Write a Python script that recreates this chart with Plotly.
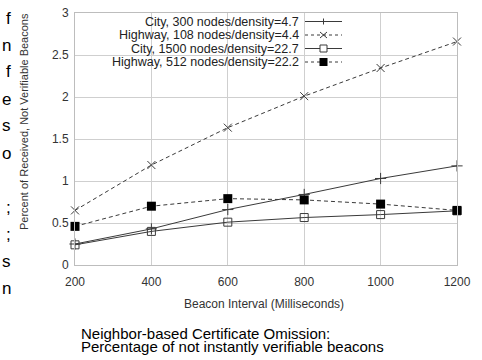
import plotly.graph_objects as go

intervals = [200, 400, 600, 800, 1000, 1200]
city_300 = [0.25, 0.43, 0.66, 0.84, 1.03, 1.18]
highway_108 = [0.65, 1.19, 1.635, 2.01, 2.345, 2.66]
city_1500 = [0.24, 0.40, 0.51, 0.565, 0.60, 0.645]
highway_512 = [0.46, 0.70, 0.79, 0.775, 0.725, 0.65]

names = ["City, 300 nodes/density=4.7", "Highway, 108 nodes/density=4.4",
         "City, 1500 nodes/density=22.7", "Highway, 512 nodes/density=22.2"]
x_ticks = [200, 400, 600, 800, 1000, 1200]
y_ticks = [0, 0.5, 1, 1.5, 2, 2.5, 3]
y_tick_text = ["0", "0.5", "1", "1.5", "2", "2.5", "3"]
left_fragments = ["f", "n", "f", "e", "s", "o", "", ";", ";", "s", "n"]
caption = ["Neighbor-based Certificate Omission:", "Percentage of not instantly verifiable beacons"]

FONT = "Liberation Sans, Arial, sans-serif"
LC = "#3a3a3a"
W, H = 482, 360
# plot area in window pixels: x 75..457, y 13..265
L, T = 75, 13
pw, ph = 382, 252
R, B = W - L - pw, H - T - ph

def px(x):
    return (x - L) / pw

def py(y):
    return (T + ph - y) / ph

styles = [
    dict(dash="solid", symbol="cross-thin-open", size=8, color=LC, lw=1),
    dict(dash="4px,3px", symbol="x-thin-open", size=8, color=LC, lw=1),
    dict(dash="solid", symbol="square-open", size=8, color=LC, lw=1),
    dict(dash="4px,3px", symbol="square", size=9, color="black", lw=0),
]
series = [city_300, highway_108, city_1500, highway_512]

fig = go.Figure()
for name, ys, st in zip(names, series, styles):
    fig.add_trace(go.Scatter(
        x=intervals, y=ys, name=name, mode="lines+markers",
        line=dict(color=LC, width=1, dash=st["dash"]),
        marker=dict(symbol=st["symbol"], size=st["size"], color=st["color"],
                    line=dict(color=st["color"], width=st["lw"])),
        showlegend=False,
    ))

annotations = []
shapes = []
# gnuplot-style legend: text right-aligned, line sample to the right
leg_rows = [21.5, 35, 48.5, 62]
for name, st, ry in zip(names, styles, leg_rows):
    annotations.append(dict(x=px(301), y=py(ry), xref="paper", yref="paper", text=name,
                            showarrow=False, xanchor="right", yanchor="middle",
                            font=dict(family=FONT, size=12.5, color="#222")))
    shapes.append(dict(type="line", xref="paper", yref="paper", x0=px(305), x1=px(342),
                       y0=py(ry), y1=py(ry),
                       line=dict(color=LC, width=1, dash="solid" if st["dash"] == "solid" else "3px,3px")))
    cx, cy = 323.5, ry
    if st["symbol"] == "cross-thin-open":
        shapes.append(dict(type="line", xref="paper", yref="paper", x0=px(cx), x1=px(cx),
                           y0=py(cy - 3), y1=py(cy + 3), line=dict(color=LC, width=1)))
    elif st["symbol"] == "x-thin-open":
        shapes.append(dict(type="line", xref="paper", yref="paper", x0=px(cx - 3.5), x1=px(cx + 3.5),
                           y0=py(cy - 3), y1=py(cy + 3), line=dict(color=LC, width=1)))
        shapes.append(dict(type="line", xref="paper", yref="paper", x0=px(cx - 3.5), x1=px(cx + 3.5),
                           y0=py(cy + 3), y1=py(cy - 3), line=dict(color=LC, width=1)))
    elif st["symbol"] == "square-open":
        shapes.append(dict(type="rect", xref="paper", yref="paper", x0=px(cx - 3.5), x1=px(cx + 3.5),
                           y0=py(cy - 3.5), y1=py(cy + 3.5), line=dict(color=LC, width=1),
                           fillcolor="white"))
    else:
        shapes.append(dict(type="rect", xref="paper", yref="paper", x0=px(cx - 4), x1=px(cx + 4),
                           y0=py(cy - 4), y1=py(cy + 4), line=dict(color="black", width=0),
                           fillcolor="black"))

# cut-off paragraph fragments on the left edge
for i, t in enumerate(left_fragments):
    if not t:
        continue
    annotations.append(dict(x=px(13), y=py(18 + 27 * i), xref="paper", yref="paper", text=t,
                            showarrow=False, xanchor="right", yanchor="middle",
                            font=dict(family=FONT, size=17, color="black")))

# y axis title
annotations.append(dict(x=px(24), y=py(122), xref="paper", yref="paper",
                        text="Percent of Received, Not Verifiable Beacons", textangle=-90,
                        showarrow=False, xanchor="center", yanchor="middle",
                        font=dict(family=FONT, size=11, color="#333")))
# x axis title
annotations.append(dict(x=px(264), y=py(304), xref="paper", yref="paper",
                        text="Beacon Interval (Milliseconds)",
                        showarrow=False, xanchor="center", yanchor="middle",
                        font=dict(family=FONT, size=12, color="#333")))
# caption
for i, line in enumerate(caption):
    annotations.append(dict(x=px(79), y=py(333 + 13 * i), xref="paper", yref="paper",
                            text=line, showarrow=False, xanchor="left", yanchor="middle",
                            font=dict(family=FONT, size=15, color="black")))

fig.update_layout(
    width=W, height=H,
    margin=dict(l=L, r=R, t=T, b=B, autoexpand=False),
    paper_bgcolor="white", plot_bgcolor="white",
    font=dict(family=FONT, size=12, color="#333"),
    annotations=annotations, shapes=shapes,
    xaxis=dict(range=[200, 1200], tickvals=x_ticks, showgrid=True, gridcolor="#cfcfcf",
               gridwidth=1, zeroline=False, showline=True, linecolor="#bdbdbd", mirror=True,
               ticks="outside", ticklen=6, tickcolor="rgba(0,0,0,0)",
               ticklabeloverflow="allow",
               tickfont=dict(family=FONT, size=12, color="#333")),
    yaxis=dict(range=[0, 3], tickvals=y_ticks, ticktext=y_tick_text, showgrid=True,
               gridcolor="#cfcfcf", gridwidth=1, zeroline=False, showline=True,
               linecolor="#bdbdbd", mirror=True, ticks="outside", ticklen=3,
               tickcolor="rgba(0,0,0,0)", ticklabeloverflow="allow",
               tickfont=dict(family=FONT, size=12, color="#333")),
)
fig.update_traces(cliponaxis=False)
fig.write_html("out.html", config={"displayModeBar": False},
               post_script="document.body.style.margin='0px';")
